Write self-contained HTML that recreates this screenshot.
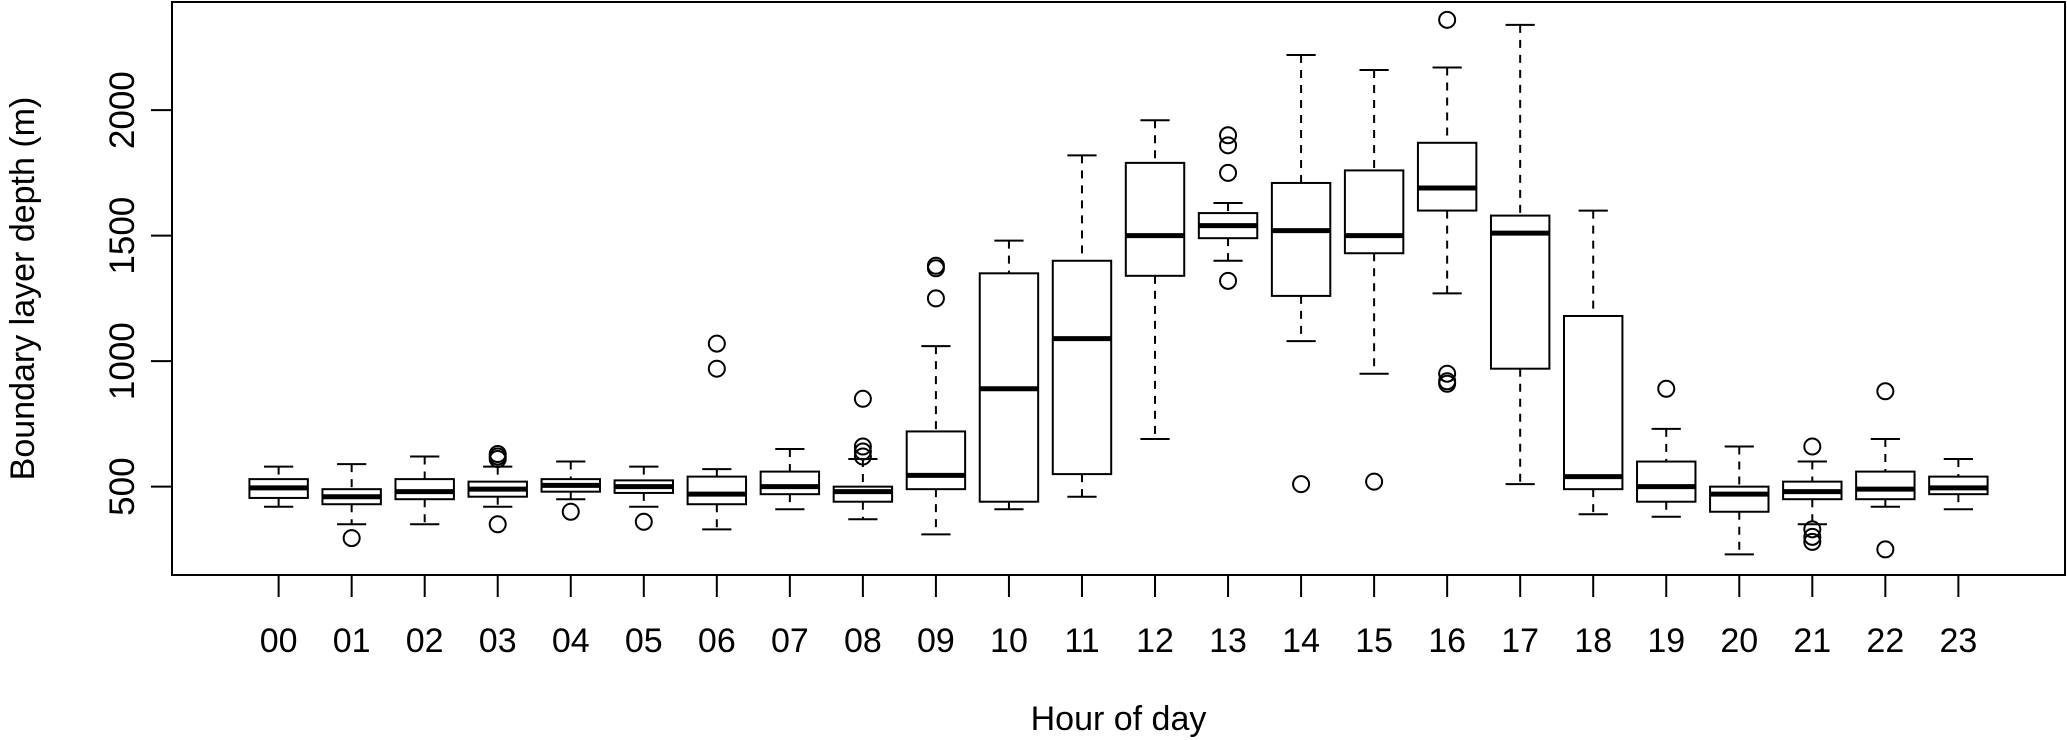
<!DOCTYPE html>
<html><head><meta charset="utf-8"><style>
html,body{margin:0;padding:0;background:#fff;}
svg{display:block;font-family:"Liberation Sans",Arial,sans-serif;}
</style></head><body>
<svg id="chart" width="2067" height="740" xmlns="http://www.w3.org/2000/svg"></svg>
<script>
const hours = ["00","01","02","03","04","05","06","07","08","09","10","11","12","13","14","15","16","17","18","19","20","21","22","23"];
const whiskerLow = [420,350,350,420,450,420,330,410,370,310,410,460,690,1400,1080,950,1270,510,390,380,230,350,420,410];
const q1 = [455,430,450,460,480,475,430,470,440,490,440,550,1340,1490,1260,1430,1600,970,490,440,400,450,450,470];
const medians = [495,460,480,490,505,500,470,500,480,545,890,1090,1500,1540,1520,1500,1690,1510,540,500,470,480,490,495];
const q3 = [530,490,530,520,530,525,540,560,500,720,1350,1400,1790,1590,1710,1760,1870,1580,1180,600,500,520,560,540];
const whiskerHigh = [580,590,620,580,600,580,570,650,610,1060,1480,1820,1960,1630,2220,2160,2170,2340,1600,730,660,600,690,610];
const outliers = [[],[295],[],[620,630,610,350],[400],[360],[970,1070],[],[640,660,850,620],[1250,1370,1380],[],[],[],[1320,1750,1860,1900],[510],[520],[2360,950,920,910],[],[],[890],[],[660,330,300,280],[880,250],[]];
const yTicks = [500,1000,1500,2000];

const NS="http://www.w3.org/2000/svg";
const svg=document.getElementById('chart');
const L=172,R=2065,T=2,B=575;
const xmin=-0.46,xmax=25.46;
const yminV=148,ymaxV=2431;
function xs(i){return L+(i+1-xmin)/(xmax-xmin)*(R-L);}
function ys(v){return B-(v-yminV)/(ymaxV-yminV)*(B-T);}
function el(tag,attrs,parent){const e=document.createElementNS(NS,tag);for(const k in attrs)e.setAttribute(k,attrs[k]);(parent||svg).appendChild(e);return e;}
const unit=(R-L)/(xmax-xmin);
const bw=0.8*unit/2, cw=bw/2;

const frame=el('rect',{x:L,y:T,width:R-L,height:B-T,fill:'none',stroke:'#000','stroke-width':2});



hours.forEach((h,i)=>{
  const g=el('g',{});
  
  
  const cx=xs(i);
  el('line',{x1:cx,x2:cx,y1:ys(whiskerHigh[i]),y2:ys(q3[i]),stroke:'#000','stroke-width':2,'stroke-dasharray':'8,7'},g);
  el('line',{x1:cx,x2:cx,y1:ys(q1[i]),y2:ys(whiskerLow[i]),stroke:'#000','stroke-width':2,'stroke-dasharray':'8,7'},g);
  el('line',{x1:cx-cw,x2:cx+cw,y1:ys(whiskerHigh[i]),y2:ys(whiskerHigh[i]),stroke:'#000','stroke-width':2},g);
  el('line',{x1:cx-cw,x2:cx+cw,y1:ys(whiskerLow[i]),y2:ys(whiskerLow[i]),stroke:'#000','stroke-width':2},g);
  el('rect',{x:cx-bw,y:ys(q3[i]),width:2*bw,height:ys(q1[i])-ys(q3[i]),fill:'#fff',stroke:'#000','stroke-width':2},g);
  el('line',{x1:cx-bw,x2:cx+bw,y1:ys(medians[i]),y2:ys(medians[i]),stroke:'#000','stroke-width':5},g);
  outliers[i].forEach(v=>{
    const c=el('circle',{cx:cx,cy:ys(v),r:8,fill:'none',stroke:'#000','stroke-width':2},g);
    
    
  });
  const t=el('line',{x1:cx,x2:cx,y1:B,y2:B+22,stroke:'#000','stroke-width':2});
  
  
  const lb=el('text',{x:cx,y:652,'text-anchor':'middle','font-size':34});
  
  
  lb.textContent=h;
});
yTicks.forEach(v=>{
  const y=ys(v);
  const t=el('line',{x1:L-21,x2:L,y1:y,y2:y,stroke:'#000','stroke-width':2});
  
  
  const lb=el('text',{x:0,y:0,'text-anchor':'middle','font-size':35,transform:`translate(134,${y}) rotate(-90)`});
  
  
  lb.textContent=String(v);
});
const xt=el('text',{x:(L+R)/2,y:730,'text-anchor':'middle','font-size':34});


xt.textContent='Hour of day';
const yt=el('text',{x:0,y:0,'text-anchor':'middle','font-size':34,transform:`translate(34,${(T+B)/2}) rotate(-90)`});


yt.textContent='Boundary layer depth (m)';
</script>
</body></html>
